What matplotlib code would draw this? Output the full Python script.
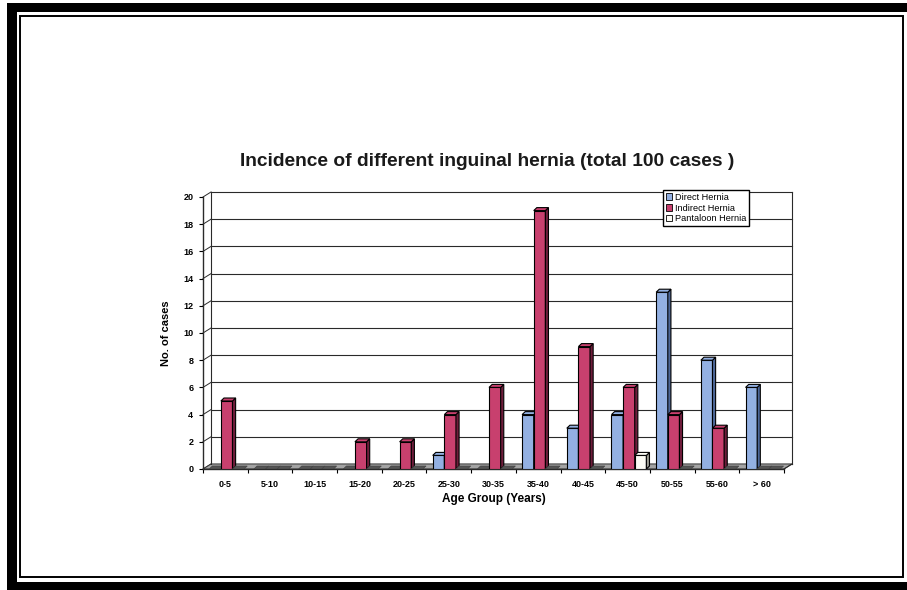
import matplotlib

matplotlib.use("Agg")
import matplotlib.pyplot as plt
from matplotlib.patches import Rectangle, Polygon, Patch
import numpy as np

plt.rcParams["font.family"] = ["Liberation Sans", "DejaVu Sans"]

# Age groups and case counts per hernia type
AGE_GROUPS = ["0-5", "5-10", "10-15", "15-20", "20-25", "25-30", "30-35",
              "35-40", "40-45", "45-50", "50-55", "55-60", "> 60"]
DIRECT = [0, 0, 0, 0, 0, 1, 0, 4, 3, 4, 13, 8, 6]
INDIRECT = [5, 0, 0, 2, 2, 4, 6, 19, 9, 6, 4, 3, 0]
PANTALOON = [0, 0, 0, 0, 0, 0, 0, 0, 0, 1, 0, 0, 0]

SERIES = [
    ("Direct Hernia", DIRECT, "#93b0e2", "#4d6798"),
    ("Indirect Hernia", INDIRECT, "#c8406e", "#6e1d3b"),
    ("Pantaloon Hernia", PANTALOON, "#fbfbf4", "#9a9a90"),
]

W, H = 907, 590
BAR_W = 0.26
# depth of the chart box and of each column, in data units
WALL_DX, WALL_DY = 0.18, 0.37
BAR_DX, BAR_DY = 0.07, 0.22


def fx(px):
    return px / W


def fy(py):
    return 1 - py / H


fig = plt.figure(figsize=(W / 100, H / 100), dpi=100)
fig.patch.set_facecolor("white")

# page border: heavy black on left/top/bottom, thin inner frame
for x0, y0, x1, y1 in [(7, 3, 17, 590), (7, 3, 907, 12), (7, 582, 907, 590)]:
    fig.add_artist(Rectangle((fx(x0), fy(y1)), fx(x1) - fx(x0), fy(y0) - fy(y1),
                             transform=fig.transFigure, color="black", lw=0))
fig.add_artist(Rectangle((fx(20), fy(577)), fx(903) - fx(20), fy(16) - fy(577),
                         transform=fig.transFigure, fill=False, ec="black", lw=1.4))

ax = fig.add_axes([fx(203), fy(469), fx(784) - fx(203), fy(197) - fy(469)])
ax.set_xlim(-0.5, 12.5)
ax.set_ylim(0, 20)
for s in ax.spines.values():
    s.set_visible(False)

x = np.arange(len(AGE_GROUPS))
x_lo, x_hi = -0.5, len(AGE_GROUPS) - 0.5
grid_c = "#2a2a2a"

# floor
ax.add_patch(Polygon([(x_lo, 0), (x_hi, 0), (x_hi + WALL_DX, WALL_DY), (x_lo + WALL_DX, WALL_DY)],
                     closed=True, fc="#a4a4a4", ec="#333333", lw=0.7, clip_on=False, zorder=1))

# back wall gridlines and left wall diagonals
for yv in range(0, 21, 2):
    ax.plot([x_lo + WALL_DX, x_hi + WALL_DX], [yv + WALL_DY, yv + WALL_DY],
            color=grid_c, lw=0.8, clip_on=False, zorder=0.5)
    ax.plot([x_lo, x_lo + WALL_DX], [yv, yv + WALL_DY],
            color=grid_c, lw=0.7, clip_on=False, zorder=0.5)
ax.plot([x_lo + WALL_DX] * 2, [WALL_DY, 20 + WALL_DY], color=grid_c, lw=0.8, clip_on=False)
ax.plot([x_hi + WALL_DX] * 2, [WALL_DY, 20 + WALL_DY], color=grid_c, lw=0.8, clip_on=False)
ax.plot([x_lo, x_lo], [0, 20], color=grid_c, lw=1.0, clip_on=False)
ax.plot([x_lo, x_hi], [0, 0], color=grid_c, lw=1.0, clip_on=False)
ax.plot([x_hi, x_hi + WALL_DX], [0, WALL_DY], color=grid_c, lw=0.7, clip_on=False)

offsets = [-BAR_W, 0.0, BAR_W]
for (name, vals, face, side), off in zip(SERIES, offsets):
    xs = x + off + 0.03
    ax.bar(xs, vals, width=BAR_W, color=face, edgecolor="black", linewidth=0.8, zorder=3)
    for xc, v in zip(xs, vals):
        xl, xr = xc - BAR_W / 2, xc + BAR_W / 2
        if v > 0:
            ax.add_patch(Polygon([(xr, 0), (xr + BAR_DX, BAR_DY), (xr + BAR_DX, v + BAR_DY), (xr, v)],
                                 closed=True, fc=side, ec="black", lw=0.8, zorder=3))
        top = face if v > 0 else "#555555"
        ax.add_patch(Polygon([(xl, v), (xl + BAR_DX, v + BAR_DY), (xr + BAR_DX, v + BAR_DY), (xr, v)],
                             closed=True, fc=top, ec="black" if v > 0 else "#444444",
                             lw=0.8 if v > 0 else 0.5, zorder=3))

ax.set_yticks(range(0, 21, 2))
ax.set_xticks(x)
ax.set_xticklabels(AGE_GROUPS)
ax.set_xticks(np.arange(x_lo, x_hi + 0.01, 1), minor=True)
ax.tick_params(axis="x", which="major", length=0, pad=8, labelsize=6.5)
ax.tick_params(axis="x", which="minor", length=3, width=0.8, direction="out")
ax.tick_params(axis="y", length=3, width=0.8, pad=4, labelsize=6.5)
for lbl in ax.get_xticklabels() + ax.get_yticklabels():
    lbl.set_fontweight("bold")

ax.set_ylabel("No. of cases", fontsize=8, fontweight="bold", labelpad=9)
ax.set_xlabel("Age Group (Years)", fontsize=8.5, fontweight="bold", labelpad=3)

fig.text(fx(487), fy(161), "Incidence of different inguinal hernia (total 100 cases )",
         ha="center", va="center", fontsize=13.8, fontweight="bold", color="#1a1a1a")

handles = [Patch(facecolor=f, edgecolor="black", linewidth=0.6, label=n) for n, _, f, _ in SERIES]
fig.legend(handles=handles, loc="upper left", bbox_to_anchor=(fx(663), fy(190)),
           bbox_transform=fig.transFigure, fontsize=6.6, frameon=True, fancybox=False,
           edgecolor="black", framealpha=1, borderpad=0.3, labelspacing=0.2,
           handlelength=0.7, handleheight=0.7, handletextpad=0.3, borderaxespad=0)

fig.savefig("out.png", dpi=100)
